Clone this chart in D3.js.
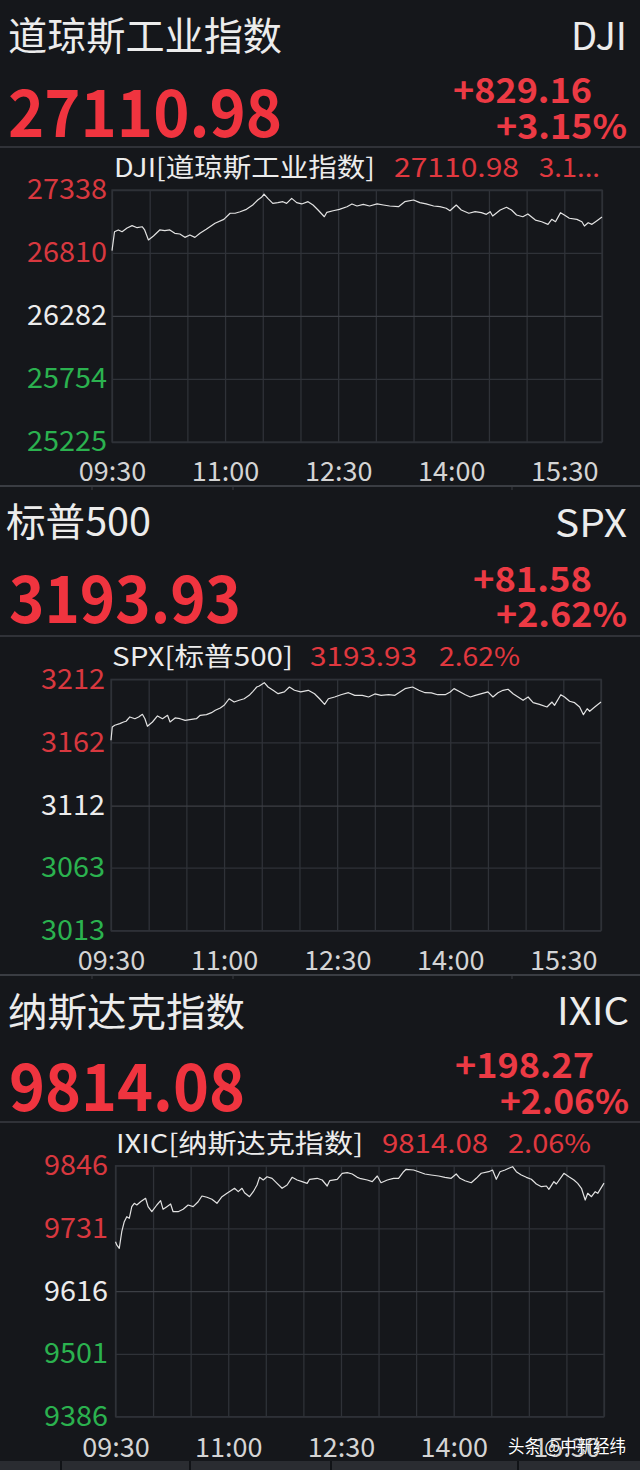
<!DOCTYPE html>
<html><head><meta charset="utf-8">
<script src="https://cdn.jsdelivr.net/npm/d3@7"></script>
<style>
html,body{margin:0;padding:0;background:#15171b;}
svg{display:block}
text{font-family:"Noto Sans CJK SC","Noto Sans",sans-serif;}
</style></head><body>
<svg id="c" width="640" height="1470"></svg>
<script>
// ---------- data ----------
const timeTicks = [0, 90, 180, 270, 360];
const timeTickLabels = ["09:30", "11:00", "12:30", "14:00", "15:30"];
const gridMinutes = [0,30,60,90,120,150,180,210,240,270,300,330,360,390];

const djiMinutes = [0,2,5,8,12,16,20,24,26,29,33,38,42,46,50,54,58,62,66,70,75,82,89,94,98,102,107,112,116,119,121,124,128,132,136,139,143,147,151,156,160,164,169,171,176,181,187,191,195,200,205,211,216,221,228,233,240,245,250,256,261,266,269,274,278,284,289,294,298,301,303,309,314,318,322,327,331,337,342,347,350,353,357,360,364,370,374,376,379,382,386,390];
const djiValues = [26830,26988,27003,26988,27019,27039,27022,27030,27003,26919,26952,27003,26997,27003,26975,26969,26941,26961,26941,26975,27008,27059,27092,27143,27143,27156,27176,27212,27254,27277,27304,27268,27226,27232,27240,27226,27268,27232,27221,27240,27212,27170,27114,27151,27164,27176,27198,27221,27204,27218,27204,27221,27212,27204,27198,27240,27254,27232,27221,27204,27198,27185,27164,27212,27170,27143,27156,27148,27134,27156,27120,27170,27193,27170,27128,27114,27137,27086,27072,27050,27092,27072,27148,27128,27101,27092,27072,27036,27064,27050,27081,27111];
const djiTicks = [27338, 26810, 26282, 25754, 25225];

const spxMinutes = [0,1,3,7,10,12,15,19,22,25,27,29,33,37,41,45,47,51,55,59,64,68,71,76,80,83,87,90,94,98,102,106,110,113,116,118,122,125,129,133,138,142,146,151,157,162,166,170,173,178,183,189,194,200,205,210,215,221,226,230,234,240,245,250,255,260,266,270,273,278,282,286,290,295,300,304,308,312,316,320,324,328,332,336,341,347,351,353,358,361,365,369,373,376,379,381,385,390];
const spxValues = [3163.7,3174.2,3175.6,3176.9,3178.2,3178.8,3182.2,3180.8,3182.2,3184.3,3180.8,3174.8,3178.2,3183.0,3180.8,3183.5,3178.2,3181.4,3180.8,3179.5,3180.3,3180.8,3183.5,3184.0,3185.6,3187.5,3189.3,3191.4,3196.6,3194.0,3195.4,3196.6,3199.3,3202.5,3205.9,3206.7,3209.3,3205.9,3203.3,3200.6,3202.0,3205.9,3203.3,3202.0,3203.3,3200.6,3196.6,3192.2,3196.6,3198.0,3199.8,3201.4,3199.3,3199.3,3198.0,3200.4,3199.3,3199.8,3199.3,3202.0,3204.6,3205.9,3203.3,3201.4,3201.2,3199.8,3199.8,3202.0,3204.6,3202.0,3199.8,3198.0,3199.3,3200.6,3202.0,3198.0,3201.4,3203.3,3204.1,3200.6,3198.0,3195.4,3198.0,3193.5,3192.2,3190.1,3194.0,3191.4,3199.8,3198.0,3194.6,3193.5,3190.1,3184.0,3188.7,3186.7,3190.1,3194.0];
const spxTicks = [3212, 3162, 3112, 3063, 3013];

const ixicMinutes = [0,1,3,5,7,9,11,13,15,17,20,24,26,29,33,36,38,41,44,46,50,54,58,62,66,69,73,77,81,85,89,93,95,98,101,103,107,110,113,115,118,121,125,129,133,137,141,145,149,153,155,161,165,169,171,177,181,185,189,193,195,201,205,209,212,217,222,226,230,232,238,242,247,252,258,263,268,272,275,279,284,288,292,298,301,304,307,311,314,317,320,324,328,332,336,340,344,346,350,352,358,362,366,369,372,375,377,380,383,385,390];
const ixicValues = [9706.7,9700.7,9694.6,9725.0,9743.4,9752.5,9749.6,9770.9,9777.1,9774.0,9780.0,9786.3,9770.9,9761.7,9774.0,9781.9,9766.1,9770.9,9775.8,9761.7,9761.7,9766.1,9774.0,9770.9,9780.0,9790.5,9788.1,9784.4,9777.1,9789.2,9795.4,9801.5,9804.6,9798.4,9804.6,9796.5,9789.2,9798.4,9810.6,9824.7,9819.8,9825.8,9822.9,9813.7,9804.6,9810.6,9824.7,9819.8,9816.7,9813.7,9821.1,9822.9,9819.8,9808.8,9818.5,9821.1,9832.1,9833.2,9830.8,9824.7,9822.9,9819.8,9816.7,9827.1,9814.8,9819.8,9822.9,9822.9,9835.0,9839.4,9838.1,9835.0,9830.8,9829.0,9827.1,9824.7,9822.9,9830.8,9822.9,9818.5,9814.8,9822.9,9832.1,9835.0,9838.1,9821.1,9835.0,9838.1,9841.2,9844.2,9835.0,9829.0,9824.7,9821.1,9812.5,9807.5,9808.8,9802.7,9816.7,9812.5,9832.1,9825.8,9819.8,9813.7,9804.6,9783.1,9795.4,9789.2,9798.4,9795.4,9814.0];
const ixicTicks = [9846, 9731, 9616, 9501, 9386];

const indexNames = ["道琼斯工业指数", "标普500", "纳斯达克指数"];
const indexCodes = ["DJI", "SPX", "IXIC"];
const lastPrices = ["27110.98", "3193.93", "9814.08"];
const changes = ["+829.16", "+81.58", "+198.27"];
const changePcts = ["+3.15%", "+2.62%", "+2.06%"];
const captionPcts = ["3.1...", "2.62%", "2.06%"];
const prevCloses = [26281.82, 3112.35, 9615.81];

// ---------- layout ----------
const layouts = [
  {title:[8,50,274], code:[627,50,56], big:[8,137,274], chg:[592,103,139], pct:[627,139,131], sep:147,
   cap:[[114,261],[394,125],[539,61]], capBase:177, plot:[112,602,190,442], ylabX:107, xlabBase:481},
  {title:[6,536,145], code:[627,537,72], big:[9,623,232], chg:[592,592,119], pct:[627,627,131], sep:636,
   cap:[[112,181],[310,107],[439,81]], capBase:666, plot:[111,601,679.3,930.7], ylabX:105, xlabBase:970},
  {title:[8,1026,237], code:[629,1025,72], big:[9,1111,236], chg:[594,1078,139], pct:[629,1114,129], sep:1122,
   cap:[[116,247],[382,106],[508,83]], capBase:1153, plot:[115.5,604,1165.7,1416.7], ylabX:108, xlabBase:1457}
];
const series = [
  {m: djiMinutes, v: djiValues, ticks: djiTicks},
  {m: spxMinutes, v: spxValues, ticks: spxTicks},
  {m: ixicMinutes, v: ixicValues, ticks: ixicTicks}
];

const C = {
  red: "#f0343f", red2: "#ec3a44", capRed: "#e0383f", white: "#ececec",
  yRed: "#d8383f", yGreen: "#2bb24f", xlab: "#d4d4d4", grid: "#2f3238", sep: "#3a3d43", line: "#e2e2e2"
};

const svg = d3.select("#c");
svg.append("rect").attr("width", 640).attr("height", 1470).attr("fill", "#15171b");

function txt(g, x, y, s, o) {
  const t = g.append("text").attr("x", x).attr("y", y).text(s)
    .attr("font-size", o.size).attr("fill", o.fill)
    .attr("font-weight", o.weight || 400)
    .attr("text-anchor", o.anchor || "start");
  if (o.w) t.attr("textLength", o.w).attr("lengthAdjust", "spacingAndGlyphs");
  return t;
}

layouts.forEach((L, i) => {
  const g = svg.append("g");
  const S = series[i];
  txt(g, L.title[0], L.title[1], indexNames[i], {size: 39, fill: C.white, w: L.title[2]});
  txt(g, L.code[0], L.code[1], indexCodes[i], {size: 38, fill: C.white, anchor: "end", w: L.code[2]});
  txt(g, L.big[0], L.big[1], lastPrices[i], {size: 65, fill: C.red, weight: 700, w: L.big[2]});
  txt(g, L.chg[0], L.chg[1], changes[i], {size: 34, fill: C.red2, weight: 700, anchor: "end", w: L.chg[2]});
  txt(g, L.pct[0], L.pct[1], changePcts[i], {size: 34, fill: C.red2, weight: 700, anchor: "end", w: L.pct[2]});
  g.append("line").attr("x1", 0).attr("x2", 640).attr("y1", L.sep).attr("y2", L.sep)
    .attr("stroke", C.sep).attr("stroke-width", 1.5);

  // caption
  txt(g, L.cap[0][0], L.capBase, indexCodes[i] + "[" + indexNames[i] + "]", {size: 26, fill: C.white, w: L.cap[0][1]});
  txt(g, L.cap[1][0], L.capBase, lastPrices[i], {size: 26, fill: C.capRed, w: L.cap[1][1]});
  txt(g, L.cap[2][0], L.capBase, captionPcts[i], {size: 26, fill: C.capRed, w: L.cap[2][1]});

  const [x0, x1, y0, y1] = L.plot;
  const x = d3.scaleLinear().domain([0, 390]).range([x0, x1]);
  const y = d3.scaleLinear().domain([S.ticks[S.ticks.length - 1], S.ticks[0]]).range([y1, y0]);

  // vertical grid
  const vg = g.append("g").attr("transform", `translate(0,${y1})`)
    .call(d3.axisBottom(x).tickValues(gridMinutes).tickSize(-(y1 - y0)).tickFormat(""));
  vg.select(".domain").remove();
  vg.selectAll("line").attr("stroke", C.grid).attr("stroke-width", 1.3);

  // y axis + horizontal grid
  const ya = g.append("g").attr("transform", `translate(${x0},0)`)
    .call(d3.axisLeft(y).tickValues(S.ticks).tickSize(-(x1 - x0)).tickPadding(x0 - L.ylabX).tickFormat(d3.format("d")));
  ya.select(".domain").remove();
  ya.selectAll("line").attr("stroke", (d, k) => k === 2 ? "#3c3f45" : C.grid).attr("stroke-width", 1.3);
  ya.selectAll("text").attr("font-size", 28).attr("font-family", '"Noto Sans CJK SC",sans-serif')
    .attr("textLength", d => String(d).length * 16).attr("lengthAdjust", "spacingAndGlyphs")
    .attr("fill", d => {
      const p = Math.round(prevCloses[i]);
      return d > p ? C.yRed : (d < p ? C.yGreen : C.white);
    });

  // border
  g.append("rect").attr("x", x0).attr("y", y0).attr("width", x1 - x0).attr("height", y1 - y0)
    .attr("fill", "none").attr("stroke", C.grid).attr("stroke-width", 1.3);

  // x axis labels
  const xa = g.append("g").attr("transform", `translate(0,${y1})`)
    .call(d3.axisBottom(x).tickValues(timeTicks).tickSize(0).tickFormat((d, k) => timeTickLabels[k]));
  xa.select(".domain").remove();
  xa.selectAll("text").attr("y", L.xlabBase - y1).attr("dy", 0).attr("font-size", 27)
    .attr("font-family", '"Noto Sans CJK SC",sans-serif').attr("fill", C.xlab);

  // price line
  const pts = S.m.map((m, k) => [m, S.v[k]]);
  g.append("path").datum(pts)
    .attr("d", d3.line().x(d => x(d[0])).y(d => y(d[1])))
    .attr("fill", "none").attr("stroke", C.line).attr("stroke-width", 1.2).attr("stroke-linejoin", "round");
});

// panel bottoms / tab bars
[486, 975].forEach(yy => {
  svg.append("line").attr("x1", 0).attr("x2", 640).attr("y1", yy).attr("y2", yy).attr("stroke", C.sep).attr("stroke-width", 2);
  [92, 233, 512].forEach(xx => svg.append("line").attr("x1", xx).attr("x2", xx).attr("y1", yy + 1).attr("y2", yy + 4).attr("stroke", C.sep));
});
svg.append("rect").attr("x", 0).attr("y", 1461).attr("width", 640).attr("height", 9).attr("fill", "#2a2c31");
[61, 190, 331, 518].forEach(xx => svg.append("line").attr("x1", xx).attr("x2", xx).attr("y1", 1461).attr("y2", 1470).attr("stroke", "#111317").attr("stroke-width", 2));

// watermark
svg.append("text").attr("x", 508).attr("y", 1453).text("头条 @中新经纬")
  .attr("font-size", 18).attr("fill", "#ffffff").attr("textLength", 118).attr("lengthAdjust", "spacingAndGlyphs")
  .attr("stroke", "#000").attr("stroke-width", 0.4).attr("paint-order", "stroke");
</script>
</body></html>
